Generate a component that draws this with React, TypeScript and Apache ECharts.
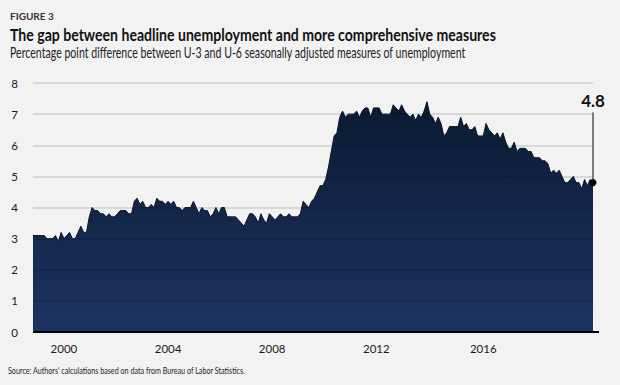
import React, { useEffect, useRef } from "react";
import * as echarts from "echarts";

// Percentage point gap between U-6 and U-3, monthly, Jan 2000 – Aug 2016
const gap2000 = [3.1, 3.1, 3.1, 3.1, 3.1, 3.0, 3.0, 3.0, 3.1, 2.9, 3.2, 3.0];
const gap2001 = [3.1, 3.2, 3.0, 3.0, 3.2, 3.4, 3.2, 3.2, 3.7, 4.0, 3.9, 3.9];
const gap2002 = [3.8, 3.8, 3.7, 3.8, 3.7, 3.7, 3.8, 3.9, 3.9, 3.9, 3.8, 3.8];
const gap2003 = [4.2, 4.3, 4.1, 4.2, 4.0, 4.0, 4.1, 4.0, 4.3, 4.2, 4.2, 4.1];
const gap2004 = [4.2, 4.1, 4.2, 4.0, 4.0, 3.9, 4.0, 4.0, 4.0, 4.2, 4.0, 3.8];
const gap2005 = [4.0, 3.9, 3.9, 3.7, 3.8, 4.0, 3.8, 4.0, 4.0, 3.7, 3.7, 3.7];
const gap2006 = [3.7, 3.6, 3.5, 3.4, 3.6, 3.8, 3.8, 3.7, 3.5, 3.8, 3.6, 3.5];
const gap2007 = [3.8, 3.7, 3.6, 3.7, 3.8, 3.7, 3.7, 3.8, 3.7, 3.7, 3.7, 3.8];
const gap2008 = [4.2, 4.1, 4.0, 4.2, 4.3, 4.5, 4.7, 4.7, 4.9, 5.3, 5.8, 6.3];
const gap2009 = [6.4, 6.9, 7.1, 6.9, 7.0, 7.0, 7.0, 7.1, 6.9, 7.1, 7.2, 7.2];
const gap2010 = [6.9, 7.2, 7.2, 7.2, 7.0, 7.0, 7.0, 7.0, 7.3, 7.2, 7.1, 7.3];
const gap2011 = [7.1, 7.0, 6.9, 7.0, 6.8, 7.0, 6.9, 7.1, 7.4, 7.0, 6.9, 6.7];
const gap2012 = [6.9, 6.7, 6.3, 6.4, 6.6, 6.6, 6.6, 6.6, 6.9, 6.6, 6.7, 6.5];
const gap2013 = [6.5, 6.6, 6.3, 6.3, 6.3, 6.7, 6.5, 6.4, 6.3, 6.4, 6.2, 6.4];
const gap2014 = [6.1, 5.9, 5.9, 6.1, 5.8, 5.9, 5.9, 5.9, 5.8, 5.8, 5.6, 5.6];
const gap2015 = [5.6, 5.5, 5.5, 5.4, 5.1, 5.2, 5.1, 5.2, 5.0, 4.8, 4.8, 4.9];
const gap2016 = [5.0, 4.8, 4.8, 4.6, 4.9, 4.7, 4.9, 4.8];

const yearlyGaps = [
  gap2000, gap2001, gap2002, gap2003, gap2004, gap2005, gap2006, gap2007, gap2008,
  gap2009, gap2010, gap2011, gap2012, gap2013, gap2014, gap2015, gap2016,
];
const firstYear = 2000;

// x-axis tick labels and the month index at which each is shown
const xTickLabels = ["2000", "2004", "2008", "2012", "2016"];
const xTickIndex = [11, 48, 85, 122, 160];
const yTicks = [0, 1, 2, 3, 4, 5, 6, 7, 8];

const FONT = 'Lato, "Open Sans", sans-serif';

export default function App() {
  const ref = useRef<HTMLDivElement>(null);

  useEffect(() => {
    if (!ref.current) return;
    const chart = echarts.init(ref.current, undefined, { renderer: "svg" });

    const values: number[] = [];
    const categories: string[] = [];
    yearlyGaps.forEach((arr, yi) => {
      arr.forEach((v, mi) => {
        values.push(v);
        categories.push(`${firstYear + yi}-${String(mi + 1).padStart(2, "0")}`);
      });
    });
    const lastIdx = values.length - 1;
    const lastVal = values[lastIdx];

    chart.setOption({
      animation: false,
      backgroundColor: "#f2f2f2",
      textStyle: { fontFamily: FONT },
      grid: { left: 33, right: 27, top: 83, bottom: 53, containLabel: false },
      xAxis: {
        type: "category",
        data: categories,
        boundaryGap: false,
        axisLine: { show: false },
        axisTick: { show: false },
        splitLine: { show: false },
        axisLabel: {
          interval: (index: number) => xTickIndex.includes(index),
          formatter: (_v: string, index: number) => {
            const k = xTickIndex.indexOf(index);
            return k >= 0 ? xTickLabels[k] : "";
          },
          color: "#1a1a1a",
          fontSize: 11.5,
          fontFamily: FONT,
          margin: 10,
        },
      },
      yAxis: {
        type: "value",
        min: yTicks[0],
        max: yTicks[yTicks.length - 1],
        interval: 1,
        z: 5,
        axisLine: { show: false },
        axisTick: { show: false },
        axisLabel: { color: "#1a1a1a", fontSize: 11.5, fontFamily: FONT, margin: 15 },
        splitLine: { lineStyle: { color: "rgba(0,0,0,0.14)", width: 1.5 } },
      },
      series: [
        {
          type: "line",
          data: values,
          symbol: "none",
          lineStyle: { color: "#0a1729", width: 1 },
          areaStyle: {
            opacity: 1,
            color: new echarts.graphic.LinearGradient(0, 0, 0, 1, [
              { offset: 0, color: "#0a1a32" },
              { offset: 1, color: "#1d3462" },
            ]),
          },
          markLine: {
            silent: true,
            symbol: ["none", "none"],
            lineStyle: { color: "#7a7a7a", width: 2, type: "solid" },
            label: {
              show: true,
              position: "end",
              formatter: String(lastVal),
              color: "#111",
              fontSize: 17,
              fontWeight: "bold",
              fontFamily: FONT,
              distance: 4,
            },
            data: [[{ coord: [lastIdx, lastVal] }, { coord: [lastIdx, 7.05] }]],
          },
          markPoint: {
            silent: true,
            symbol: "circle",
            symbolSize: 7,
            itemStyle: { color: "#000" },
            label: { show: false },
            data: [{ coord: [lastIdx, lastVal] }],
          },
        },
      ],
      graphic: [
        {
          type: "text",
          x: 10,
          y: 11,
          style: {
            text: "FIGURE 3",
            fill: "#333",
            fontSize: 10,
            fontWeight: "bold",
            fontFamily: FONT,
            verticalAlign: "top",
          },
        },
        {
          type: "text",
          x: 10,
          y: 25,
          scaleX: 0.805,
          style: {
            text: "The gap between headline unemployment and more comprehensive measures",
            fill: "#111",
            fontSize: 17.5,
            fontWeight: "bold",
            fontFamily: FONT,
            verticalAlign: "top",
          },
        },
        {
          type: "text",
          x: 10,
          y: 44.5,
          scaleX: 0.73,
          style: {
            text: "Percentage point difference between U-3 and U-6 seasonally adjusted measures of unemployment",
            fill: "#222",
            fontSize: 14.5,
            fontFamily: FONT,
            verticalAlign: "top",
          },
        },
        {
          type: "text",
          x: 8,
          y: 366,
          scaleX: 0.8,
          style: {
            text: "Source: Authors' calculations based on data from Bureau of Labor Statistics.",
            fill: "#222",
            fontSize: 9,
            fontFamily: FONT,
            verticalAlign: "top",
          },
        },
        {
          type: "line",
          shape: { x1: 33, y1: 332, x2: 599, y2: 332 },
          style: { stroke: "#000", lineWidth: 2 },
          z: 10,
        },
      ],
    });

    return () => chart.dispose();
  }, []);

  return (
    <div
      ref={ref}
      style={{ position: "fixed", left: 0, top: 0, width: 620, height: 385 }}
    />
  );
}
